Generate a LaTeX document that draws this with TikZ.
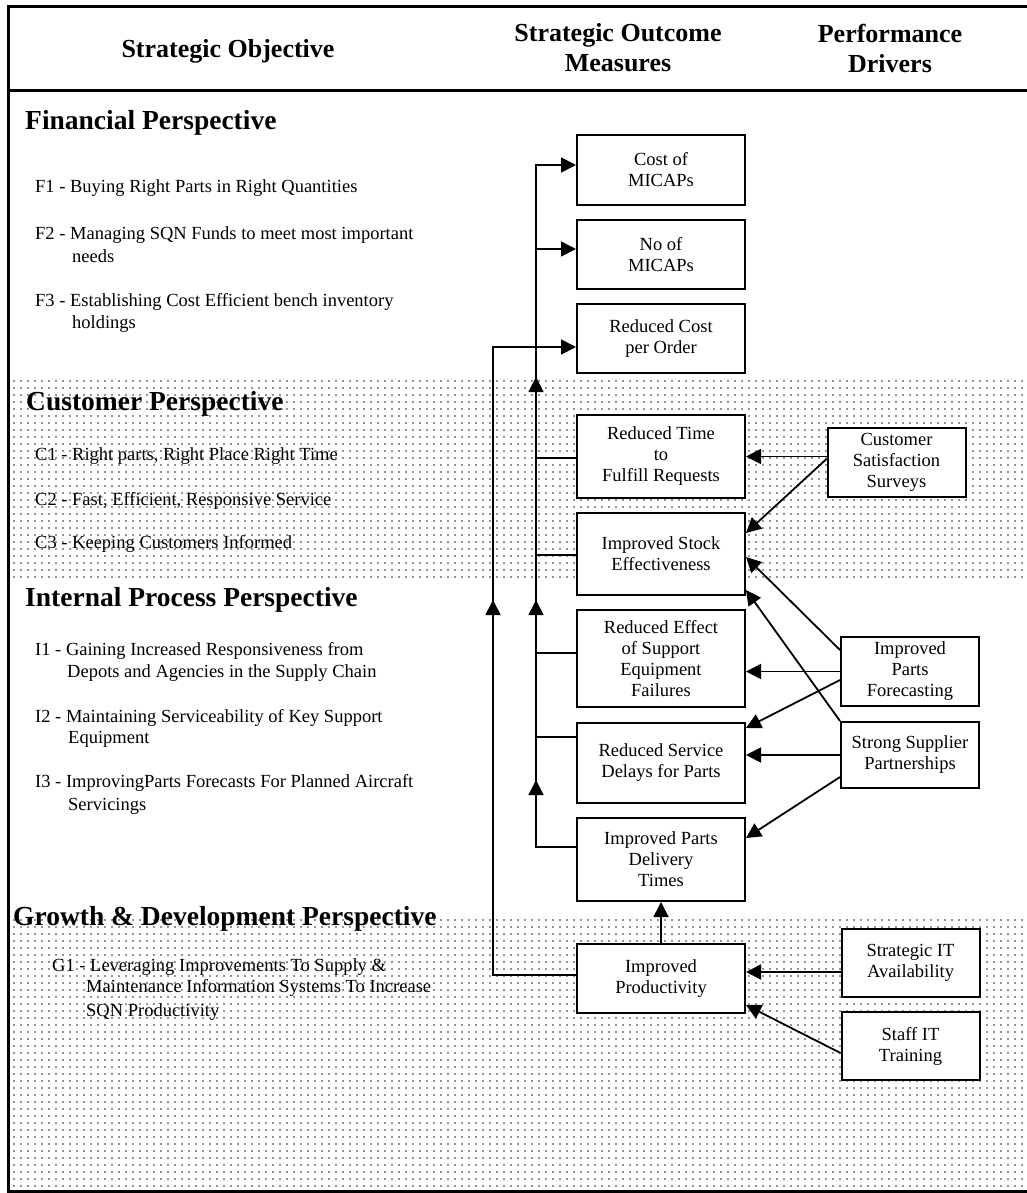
\documentclass[tikz,border=0pt]{standalone}
\usepackage{fontspec}
\setmainfont{Liberation Serif}
\usetikzlibrary{arrows.meta,patterns.meta}
\begin{document}
\begin{tikzpicture}[x=1pt,y=-1pt,
  tip/.style={-{Triangle[length=15pt,width=15pt]}},
  link/.style={line width=1.8pt},
  mbox/.style={draw, line width=2pt, fill=white, minimum width=168pt,
    inner sep=0pt, align=center, font=\fontsize{18.5}{21}\selectfont},
  dbox/.style={draw, line width=2pt, fill=white, minimum width=138pt,
    inner sep=0pt, align=center, font=\fontsize{18.5}{21}\selectfont},
  head/.style={align=center, inner sep=0pt, font=\fontsize{26}{30}\selectfont\bfseries},
  persp/.style={anchor=base west, inner sep=0pt, font=\fontsize{27.5}{30}\selectfont\bfseries},
  item/.style={anchor=base west, inner sep=0pt, font=\fontsize{18.5}{22}\selectfont},
  shadeband/.style={pattern={Dots[distance=7pt,radius=0.85pt]}, pattern color=black!85}
]
\useasboundingbox (0,0) rectangle (1026,1193);

% stippled bands behind the customer and growth sections
\fill[shadeband] (8,375) rectangle (1030,580);
\fill[shadeband] (8,917) rectangle (1030,1191);

% frame and header rule
\draw[line width=3pt] (1030,7) -- (8,7) -- (8,1191) -- (1030,1191);
\draw[line width=3pt] (8,91) -- (1030,91);

% column headings
\node[head] (hobj) at (228,51) {Strategic Objective};
\node[head] (hout) at (618,48) {Strategic Outcome\\Measures};
\node[head] (hdrv) at (890,48) {Performance\\Drivers};

% objectives, by perspective
\node[persp] (pfin) at (25,130) {Financial Perspective};
\node[item] (f1) at (35,193) {F1 - Buying Right Parts in Right Quantities};
\node[item] (f2) at (35,239) {F2 - Managing SQN Funds to meet most important};
\node[item] (f2b) at (72,262) {needs};
\node[item] (f3) at (35,306) {F3 - Establishing Cost Efficient bench inventory};
\node[item] (f3b) at (72,328) {holdings};

\node[persp] (pcus) at (26,410) {Customer Perspective};
\node[item] (c1) at (35,460) {C1 - Right parts, Right Place Right Time};
\node[item] (c2) at (35,505) {C2 - Fast, Efficient, Responsive Service};
\node[item] (c3) at (35,548) {C3 - Keeping Customers Informed};

\node[persp] (pint) at (25,606) {Internal Process Perspective};
\node[item] (i1) at (35,655) {I1 - Gaining Increased Responsiveness from};
\node[item] (i1b) at (67,677) {Depots and Agencies in the Supply Chain};
\node[item] (i2) at (35,722) {I2 - Maintaining Serviceability of Key Support};
\node[item] (i2b) at (68,743) {Equipment};
\node[item] (i3) at (35,787) {I3 - ImprovingParts Forecasts For Planned Aircraft};
\node[item] (i3b) at (68,810) {Servicings};

\node[persp] (pgro) at (13,925) {Growth \& Development Perspective};
\node[item] (g1) at (52,971) {G1 - Leveraging Improvements To Supply \&};
\node[item] (g1b) at (86,992) {Maintenance Information Systems To Increase};
\node[item] (g1c) at (86,1016) {SQN Productivity};

% outcome measures
\node[mbox, minimum height=70pt] (cost) at (661,170) {Cost of\\MICAPs};
\node[mbox, minimum height=69pt] (nom) at (661,254.5) {No of\\MICAPs};
\node[mbox, minimum height=69pt] (rc) at (661,338.5) {Reduced Cost\\per Order};
\node[mbox, minimum height=83pt] (rt) at (661,456.5) {Reduced Time\\to\\Fulfill Requests};
\node[mbox, minimum height=82pt] (is) at (661,554) {Improved Stock\\Effectiveness};
\node[mbox, minimum height=97pt] (re) at (661,658.5) {Reduced Effect\\of Support\\Equipment\\Failures};
\node[mbox, minimum height=80pt] (rsd) at (661,763) {Reduced Service\\Delays for Parts};
\node[mbox, minimum height=83pt] (ipd) at (661,859.5) {Improved Parts\\Delivery\\Times};
\node[mbox, minimum height=69pt] (ip) at (661,978.5) {Improved\\Productivity};

% performance drivers
\node[dbox, minimum height=69pt] (css) at (896.5,462.5) {Customer\\Satisfaction\\Surveys};
\node[dbox, minimum height=69pt] (ipf) at (910,671.5) {Improved\\Parts\\Forecasting};
\node[dbox, minimum height=66pt] (ssp) at (910,755) {Strong Supplier\\Partnerships};
\node[dbox, minimum height=68pt] (sit) at (910.5,963) {Strategic IT\\Availability};
\node[dbox, minimum height=68pt] (sitt) at (910.5,1046) {Staff IT\\Training};

% inner trunk: outcomes feeding the financial measures
\coordinate (t1b) at (536,847);
\coordinate (t1t) at (536,165);
\coordinate (m1) at (536,780);
\coordinate (m2) at (536,600);
\coordinate (m3) at (536,377);
\coordinate (bnom) at (536,249);
\coordinate (brt) at (536,458);
\coordinate (bis) at (536,555);
\coordinate (bre) at (536,653);
\coordinate (brsd) at (536,737);
\draw[link, tip] (ipd.west |- t1b) -- (t1b) -- (t1t) -- (cost.west |- t1t);
\draw[link, tip] (t1b) -- (m1);
\draw[link, tip] (t1b) -- (m2);
\draw[link, tip] (t1b) -- (m3);
\draw[link, tip] (bnom) -- (nom.west |- bnom);
\draw[link] (rt.west |- brt) -- (brt);
\draw[link] (is.west |- bis) -- (bis);
\draw[link] (re.west |- bre) -- (bre);
\draw[link] (rsd.west |- brsd) -- (brsd);

% outer trunk: productivity feeding cost per order
\coordinate (t2b) at (493,975);
\coordinate (t2t) at (493,347);
\coordinate (m4) at (493,600);
\draw[link, tip] (ip.west |- t2b) -- (t2b) -- (t2t) -- (rc.west |- t2t);
\draw[link, tip] (t2b) -- (m4);
\draw[link, tip] (ip.north) -- (ipd.south);

% drivers to outcomes
\draw[link, tip] (css.west |- rt.east) -- (rt.east);
\draw[link, tip] ([yshift=3.5pt]css.west) -- ([yshift=21pt]is.east);
\draw[link, tip] ([yshift=21.5pt]ipf.west) -- ([yshift=-3pt]is.east);
\draw[link, tip] (ssp.north west) -- ([yshift=-36pt]is.east);
\draw[link, tip] (ipf.west) -- (re.east |- ipf.west);
\draw[link, tip] ([yshift=-8.5pt]ipf.west) -- ([yshift=35pt]rsd.east);
\draw[link, tip] (ssp.west) -- (rsd.east |- ssp.west);
\draw[link, tip] ([yshift=-22pt]ssp.west) -- ([yshift=21.5pt]ipd.east);
\draw[link, tip] ([yshift=-9pt]sit.west) -- ([yshift=6.5pt]ip.east);
\draw[link, tip] ([yshift=-7pt]sitt.west) -- ([yshift=-26.5pt]ip.east);
\end{tikzpicture}
\end{document}
